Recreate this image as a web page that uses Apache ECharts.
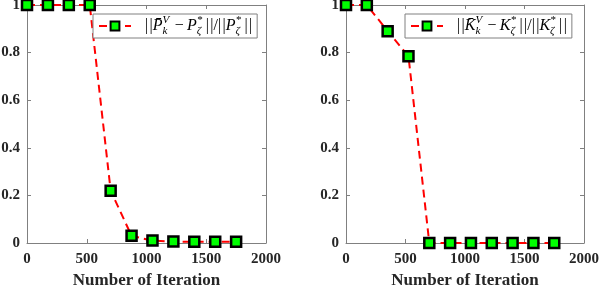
<!DOCTYPE html>
<html><head><meta charset="utf-8">
<script src="https://cdn.jsdelivr.net/npm/echarts@6/dist/echarts.min.js"></script>
<style>html,body{margin:0;padding:0;background:#fff}#c{width:602px;height:288px}</style>
</head><body><div id="c"></div>
<script>
const iterations = [0, 175, 350, 525, 700, 875, 1050, 1225, 1400, 1575, 1750];
const errP = [1, 1, 1, 1, 0.22, 0.03, 0.01, 0.006, 0.005, 0.005, 0.005];
const errK = [1, 1, 0.89, 0.785, 0, 0, 0, 0, 0, 0, 0];
const xTicks = [0, 500, 1000, 1500, 2000];
const yTicks = [0, 0.2, 0.4, 0.6, 0.8, 1];
const xTitle = 'Number of Iteration';
const nameP = 'errP', nameK = 'errK';

const chart = echarts.init(document.getElementById('c'), null, {renderer: 'canvas'});
const serif = "'Liberation Serif', 'Times New Roman', Times, serif";
const gray = '#808080';
function pairs(v){ return iterations.map((x,i)=>[x, v[i]]); }
function xAx(gi, top){
  return {type:'value', gridIndex:gi, min:xTicks[0], max:xTicks[xTicks.length-1], interval:500,
    position: top?'top':'bottom',
    name: top?'':xTitle, nameLocation:'middle', nameGap:28,
    nameTextStyle:{fontFamily:serif, fontWeight:'bold', fontSize:17, color:'#262626'},
    axisLine:{show:true, onZero:false, lineStyle:{color:gray, width:1}},
    axisTick:{show:true, inside:true, length:4, lineStyle:{color:gray}},
    axisLabel:{show:!top, fontFamily:serif, fontWeight:'bold', fontSize:15, color:'#262626', margin:9,
      formatter: v => String(v)},
    splitLine:{show:false}};
}
function yAx(gi, right){
  return {type:'value', gridIndex:gi, min:0, max:1, interval:0.2, position: right?'right':'left',
    axisLine:{show:true, onZero:false, lineStyle:{color:gray, width:1}},
    axisTick:{show:true, inside:true, length:4, lineStyle:{color:gray}},
    axisLabel:{show:!right, fontFamily:serif, fontWeight:'bold', fontSize:15, color:'#262626', margin:7,
      formatter: v => (Math.round(v*10)/10).toString()},
    splitLine:{show:false}};
}
function ser(name, v, xi, yi){
  return {name:name, type:'line', xAxisIndex:xi, yAxisIndex:yi, data:pairs(v), clip:false,
    symbol:'rect', symbolSize:10,
    itemStyle:{color:'#00ff00', borderColor:'#000', borderWidth:2.5},
    lineStyle:{color:'#ff0000', width:2, type:[8,5]}, z:3};
}
const rich = {
  t:{fontFamily:serif, fontSize:16, color:'#000', lineHeight:22},
  it:{fontFamily:serif, fontStyle:'italic', fontSize:16, color:'#000', lineHeight:22},
  sup:{fontFamily:serif, fontStyle:'italic', fontSize:11, color:'#000', verticalAlign:'top', lineHeight:11, width:0},
  sub:{fontFamily:serif, fontStyle:'italic', fontSize:11, color:'#000', verticalAlign:'bottom', lineHeight:11, width:9}
};
const nb = '|\u200A|';
function legendText(L){
  return '{t|'+nb+'}{it|'+L+'\u0304}{sup|V}{sub|k}{t|\u2009−\u2009}{it|'+L+'}{sup|*}{sub|ζ}{t|'+nb+'/'+nb+'}{it|'+L+'}{sup|*}{sub|ζ}{t|'+nb+'}';
}
function leg(name, left, L){
  return {data:[name], left:left, top:14, orient:'horizontal', itemWidth:32, itemHeight:11,
    backgroundColor:'#fff', borderColor:gray, borderWidth:1, padding:[1,5,1,5], itemGap:0,
    formatter: ()=>legendText(L), textStyle:{rich:rich, padding:[0,0,0,9]}};
}
chart.setOption({
  animation:false,
  grid:[{left:27, right:336, top:5, bottom:45, outerBoundsMode:'none'}, {left:346, right:18, top:5, bottom:45, outerBoundsMode:'none'}],
  xAxis:[xAx(0,false), xAx(0,true), xAx(1,false), xAx(1,true)],
  yAxis:[yAx(0,false), yAx(0,true), yAx(1,false), yAx(1,true)],
  legend:[leg(nameP, 93, 'P'), leg(nameK, 405, 'K')],
  series:[ser(nameP, errP, 0, 0), ser(nameK, errK, 2, 2)]
});
</script></body></html>
